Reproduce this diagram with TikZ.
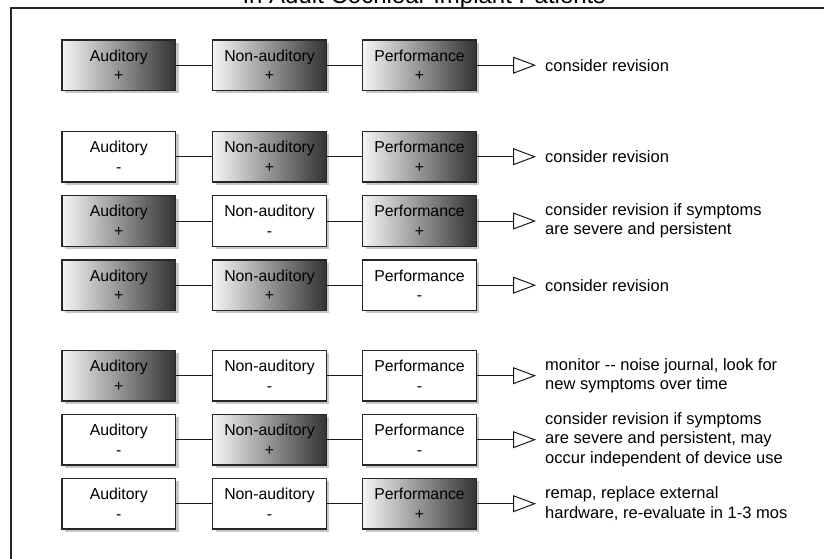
\documentclass[tikz,border=0pt]{standalone}
\usepackage{fontspec}
\setmainfont{Liberation Sans}
\usetikzlibrary{arrows.meta,shadows}
\begin{document}
\begin{tikzpicture}[x=1pt,y=-1pt,
  cell/.style={draw=black!85,line width=1.2pt,minimum width=113.5pt,minimum height=50.5pt,
    inner sep=0pt,align=center,font=\fontsize{15.8}{19.5}\selectfont,
    drop shadow={shadow xshift=3pt,shadow yshift=-3pt,opacity=0.22,fill=black}},
  plusbox/.style={cell,left color=black!4,right color=black!80},
  minusbox/.style={cell,fill=white},
  link/.style={draw=black!90,line width=1pt},
  res/.style={link,-{Triangle[open,length=23pt,width=17pt,line width=1pt]},shorten >=9pt},
  note/.style={anchor=west,inner sep=0pt,align=left,font=\fontsize{16.5}{19.3}\selectfont}]
\useasboundingbox (0,0) rectangle (824,558);
\clip (0,0) rectangle (824,558);
\node[anchor=base,font=\fontsize{24}{28}\selectfont] (title) at (424,3.5) {In Adult Cochlear Implant Patients};
\coordinate (fa) at (11,8);
\coordinate (fb) at (840,8);
\coordinate (fc) at (11,570);
\draw[line width=1.6pt,black!85] (fb) -- (fa) -- (fc);
% row 1
\node[plusbox] (a1) at (118.75,65.2) {Auditory\\+};
\node[plusbox] (b1) at (269.5,65.2) {Non-auditory\\+};
\node[plusbox] (c1) at (419.5,65.2) {Performance\\+};
\node[note] (t1) at (545,65.2) {consider revision};
% row 2
\node[minusbox] (a2) at (118.75,156.7) {Auditory\\-};
\node[plusbox] (b2) at (269.5,156.7) {Non-auditory\\+};
\node[plusbox] (c2) at (419.5,156.7) {Performance\\+};
\node[note] (t2) at (545,156.7) {consider revision};
% row 3
\node[plusbox] (a3) at (118.75,221) {Auditory\\+};
\node[minusbox] (b3) at (269.5,221) {Non-auditory\\-};
\node[plusbox] (c3) at (419.5,221) {Performance\\+};
\node[note] (t3) at (545,221) {consider revision if symptoms\\are severe and persistent};
% row 4
\node[plusbox] (a4) at (118.75,285.2) {Auditory\\+};
\node[plusbox] (b4) at (269.5,285.2) {Non-auditory\\+};
\node[minusbox] (c4) at (419.5,285.2) {Performance\\-};
\node[note] (t4) at (545,285.2) {consider revision};
% row 5
\node[plusbox] (a5) at (118.75,375.7) {Auditory\\+};
\node[minusbox] (b5) at (269.5,375.7) {Non-auditory\\-};
\node[minusbox] (c5) at (419.5,375.7) {Performance\\-};
\node[note] (t5) at (545,375.7) {monitor {-}{-} noise journal, look for\\new symptoms over time};
% row 6
\node[minusbox] (a6) at (118.75,439.7) {Auditory\\-};
\node[plusbox] (b6) at (269.5,439.7) {Non-auditory\\+};
\node[minusbox] (c6) at (419.5,439.7) {Performance\\-};
\node[note] (t6) at (545,439.7) {consider revision if symptoms\\are severe and persistent, may\\occur independent of device use};
% row 7
\node[minusbox] (a7) at (118.75,503.7) {Auditory\\-};
\node[minusbox] (b7) at (269.5,503.7) {Non-auditory\\-};
\node[plusbox] (c7) at (419.5,503.7) {Performance\\+};
\node[note] (t7) at (545,503.7) {remap, replace external\\hardware, re-evaluate in 1-3 mos};
\foreach \r in {1,...,7}{
  \draw[link] (a\r) -- (b\r);
  \draw[link] (b\r) -- (c\r);
  \draw[res] (c\r) -- (t\r);
}
\end{tikzpicture}
\end{document}
